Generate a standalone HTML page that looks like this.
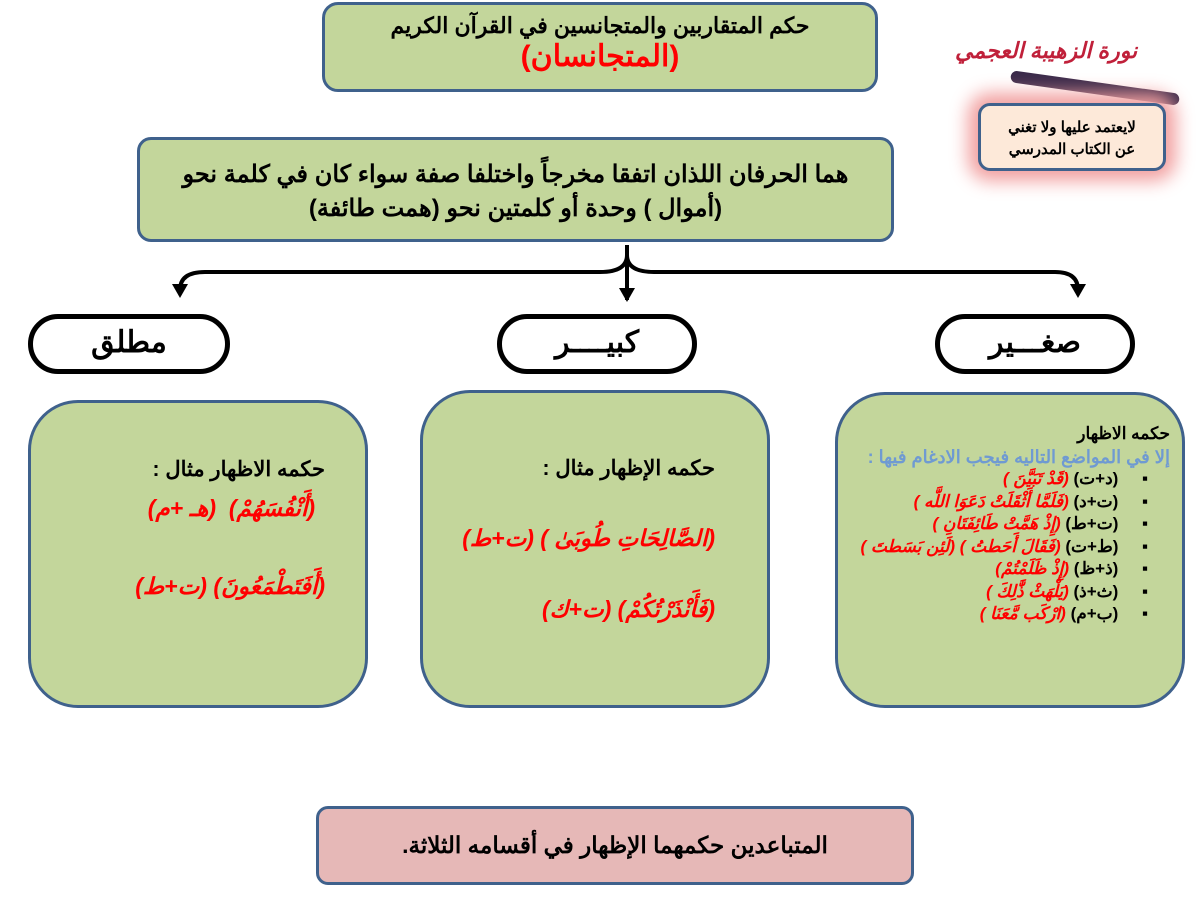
<!DOCTYPE html>
<html><head><meta charset="utf-8"><style>
body{margin:0;width:1200px;height:900px;background:#fff;position:relative;overflow:hidden;font-family:"Liberation Sans","Noto Sans CJK SC",sans-serif;font-weight:bold}
.b{position:absolute;box-sizing:border-box;background:#c3d69b;border:3px solid #3f618c;direction:rtl}
.ov{position:absolute;box-sizing:border-box;border:5px solid #000;border-radius:30px;background:#fff;text-align:center;font-size:30px;line-height:48px;direction:rtl}
.r{color:#f00;font-style:italic}
</style></head><body>
<div class="b" style="left:322px;top:2px;width:556px;height:90px;border-radius:16px;text-align:center;font-size:22px;padding-top:8px">حكم المتقاربين والمتجانسين في القرآن الكريم<br><span style="color:#f00;font-size:30px">(المتجانسان)</span></div>

<div style="position:absolute;left:950px;top:20px;width:230px;height:80px">
<div style="position:absolute;left:5px;top:18px;color:#c0203a;font-size:22px;font-style:italic;direction:rtl">نورة الزهيبة العجمي</div>
<div style="position:absolute;left:60px;top:62px;width:170px;height:12px;background:#3a2a4a;transform:rotate(8deg);border-radius:6px"></div>
</div>
<div class="b" style="left:978px;top:103px;width:188px;height:68px;border-radius:12px;background:#fde9d9;box-shadow:0 0 18px 10px #f2a0a0;text-align:center;font-size:15px;padding-top:11px;line-height:22px;color:#000">لايعتمد عليها ولا تغني<br>عن الكتاب المدرسي</div>

<div class="b" style="left:137px;top:137px;width:757px;height:105px;border-radius:14px;text-align:center;font-size:24px;padding-top:18px;line-height:34px">هما الحرفان اللذان اتفقا مخرجاً واختلفا صفة سواء كان في كلمة نحو<br>(أموال ) وحدة أو كلمتين نحو (همت طائفة)</div>

<svg style="position:absolute;left:0;top:0" width="1200" height="900">
<g fill="none" stroke="#000" stroke-width="4">
<path d="M627 245 V300"/>
<path d="M627 255 Q627 272 600 272 H205 Q180 272 180 290"/>
<path d="M627 255 Q627 272 654 272 H1055 Q1078 272 1078 290"/>
</g>
<g fill="#000"><path d="M619 288 L635 288 L627 302Z"/><path d="M172 284 L188 284 L180 298Z"/><path d="M1070 284 L1086 284 L1078 298Z"/></g>
</svg>

<div class="ov" style="left:28px;top:314px;width:202px;height:60px">مطلق</div>
<div class="ov" style="left:497px;top:314px;width:200px;height:60px">كبيــــر</div>
<div class="ov" style="left:935px;top:314px;width:200px;height:60px">صغـــير</div>

<div class="b" style="left:28px;top:400px;width:340px;height:308px;border-radius:50px;font-size:21px;padding:48px 40px 0 0;line-height:38px">حكمه الاظهار مثال :<br><span class="r" style="margin-right:10px;font-size:23px">(أَنْفُسَهُمْ)&nbsp; (هـ +م)</span><br><br><span class="r" style="font-size:23px">(أَفَتَطْمَعُونَ) (ت+ط)</span></div>

<div class="b" style="left:420px;top:390px;width:350px;height:318px;border-radius:50px;font-size:21px;padding:58px 52px 0 0;line-height:35px">حكمه الإظهار مثال :<br><br><span class="r" style="font-size:23px">(الصَّالِحَاتِ طُوبَىٰ ) (ت+ط)</span><br><br><span class="r" style="font-size:23px">(فَأَنْذَرْتُكُمْ) (ت+ك)</span></div>

<div class="b" style="left:835px;top:392px;width:350px;height:316px;border-radius:50px;font-size:17px;padding:28px 12px 0 0;line-height:22.5px">
<div>حكمه الاظهار</div>
<div style="color:#6f9ad2;font-size:18px">إلا في المواضع التاليه فيجب الادغام فيها :</div>
<div style="padding-right:22px;position:relative">
<div>▪ &nbsp;&nbsp;&nbsp;&nbsp;(د+ت) <span class="r">(قَدْ تَبَيَّنَ )</span></div>
<div>▪ &nbsp;&nbsp;&nbsp;&nbsp;(ت+د) <span class="r">(فَلَمَّا أَثْقَلَتْ دَعَوَا اللَّه )</span></div>
<div>▪ &nbsp;&nbsp;&nbsp;&nbsp;(ت+ط) <span class="r">(إِذْ هَمَّتْ طَائِفَتَانِ )</span></div>
<div>▪ &nbsp;&nbsp;&nbsp;&nbsp;(ط+ت) <span class="r">(فَقَالَ أَحَطتُ ) (لَئِن بَسَطتَ )</span></div>
<div>▪ &nbsp;&nbsp;&nbsp;&nbsp;(ذ+ظ) <span class="r">(إِذْ ظَلَمْتُمْ)</span></div>
<div>▪ &nbsp;&nbsp;&nbsp;&nbsp;(ث+ذ) <span class="r">(يَلْهَثْ ذَّٰلِكَ )</span></div>
<div>▪ &nbsp;&nbsp;&nbsp;&nbsp;(ب+م) <span class="r">(ارْكَب مَّعَنَا )</span></div>
</div></div>

<div class="b" style="left:316px;top:806px;width:598px;height:79px;border-radius:12px;background:#e6b8b7;text-align:center;font-size:23px;line-height:73px">المتباعدين حكمهما الإظهار في أقسامه الثلاثة.</div>
</body></html>
